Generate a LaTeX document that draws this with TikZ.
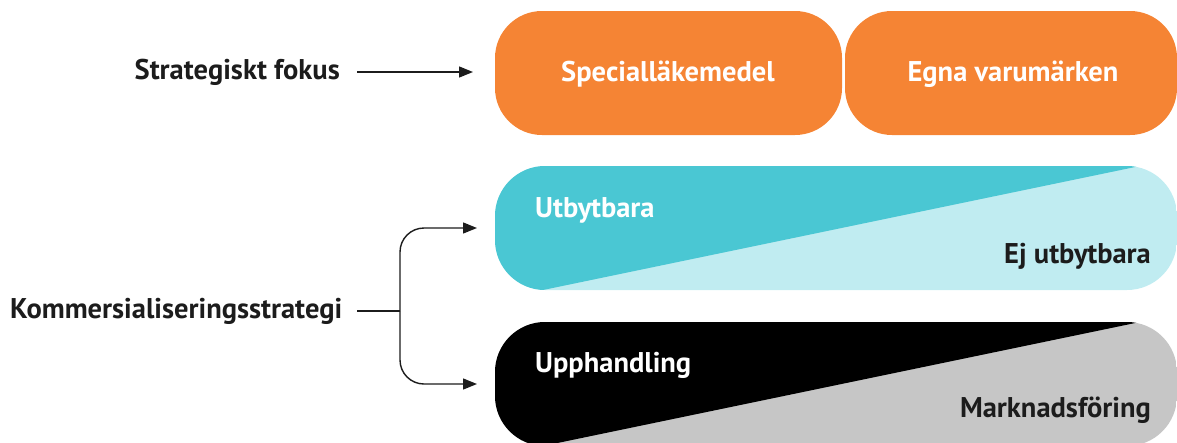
\documentclass[tikz,border=0pt]{standalone}
\usepackage{fontspec}
\setmainfont{PT Sans}
\usetikzlibrary{arrows.meta}
\definecolor{orng}{HTML}{F58434}
\definecolor{tealdark}{HTML}{4AC7D3}
\definecolor{teallight}{HTML}{C0ECF1}
\definecolor{grayband}{HTML}{C6C6C6}
\definecolor{darktext}{HTML}{1C1C1C}
\begin{document}
\begin{tikzpicture}[x=1pt,y=-1pt,
  lbl/.style={font=\fontsize{28.5}{34}\selectfont\bfseries, inner sep=0pt},
  conn/.style={line width=1.4pt, darktext},
  tip/.style={-{Triangle[length=14pt,width=11pt]}},
  bandbox/.style={rounded corners=50}]
\useasboundingbox (0,0) rectangle (1177,442);
\clip (0,0) rectangle (1177,442);

% orange boxes
\fill[orng, rounded corners=47] (495,11) rectangle (842,135);
\fill[orng, rounded corners=47] (845,11) rectangle (1177,135);
\node[lbl, white, anchor=base] (spec) at (668,81) {Specialläkemedel};
\node[lbl, white, anchor=base] (egna) at (1013,81) {Egna varumärken};

% teal band
\begin{scope}
  \clip[bandbox] (495,166) rectangle (1177,290);
  \fill[teallight] (480,150) rectangle (1190,300);
  \fill[tealdark] (480,160) -- (1140,166) -- (543,290) -- (480,300) -- cycle;
\end{scope}
\node[lbl, white, anchor=base west] (utb) at (535,217) {Utbytbara};
\node[lbl, darktext, anchor=base east] (ej) at (1151,263) {Ej utbytbara};

% black band
\begin{scope}
  \clip[bandbox] (495,322) rectangle (1177,446);
  \fill[grayband] (480,310) rectangle (1190,460);
  \fill[black] (480,316) -- (1140,322) -- (543,446) -- (480,460) -- cycle;
\end{scope}
\node[lbl, white, anchor=base west] (upp) at (535,372) {Upphandling};
\node[lbl, darktext, anchor=base east] (mark) at (1151,417) {Marknadsföring};

% left labels
\node[lbl, darktext, anchor=base east] (strat) at (340,79) {Strategiskt fokus};
\node[lbl, darktext, anchor=base west] (komm) at (10,318) {Kommersialiseringsstrategi};

% connectors
\coordinate (s0) at (357,72);
\coordinate (s1) at (473,72);
\draw[conn, tip] (s0) -- (s1);

\coordinate (k0) at (357,311);
\coordinate (kb) at (400,311);
\coordinate (ut) at (477,228);
\coordinate (ub) at (477,384);
\draw[conn] (k0) -- (kb);
\draw[conn, tip, rounded corners=24] (kb) |- (ut);
\draw[conn, tip, rounded corners=24] (kb) |- (ub);
\end{tikzpicture}
\end{document}
